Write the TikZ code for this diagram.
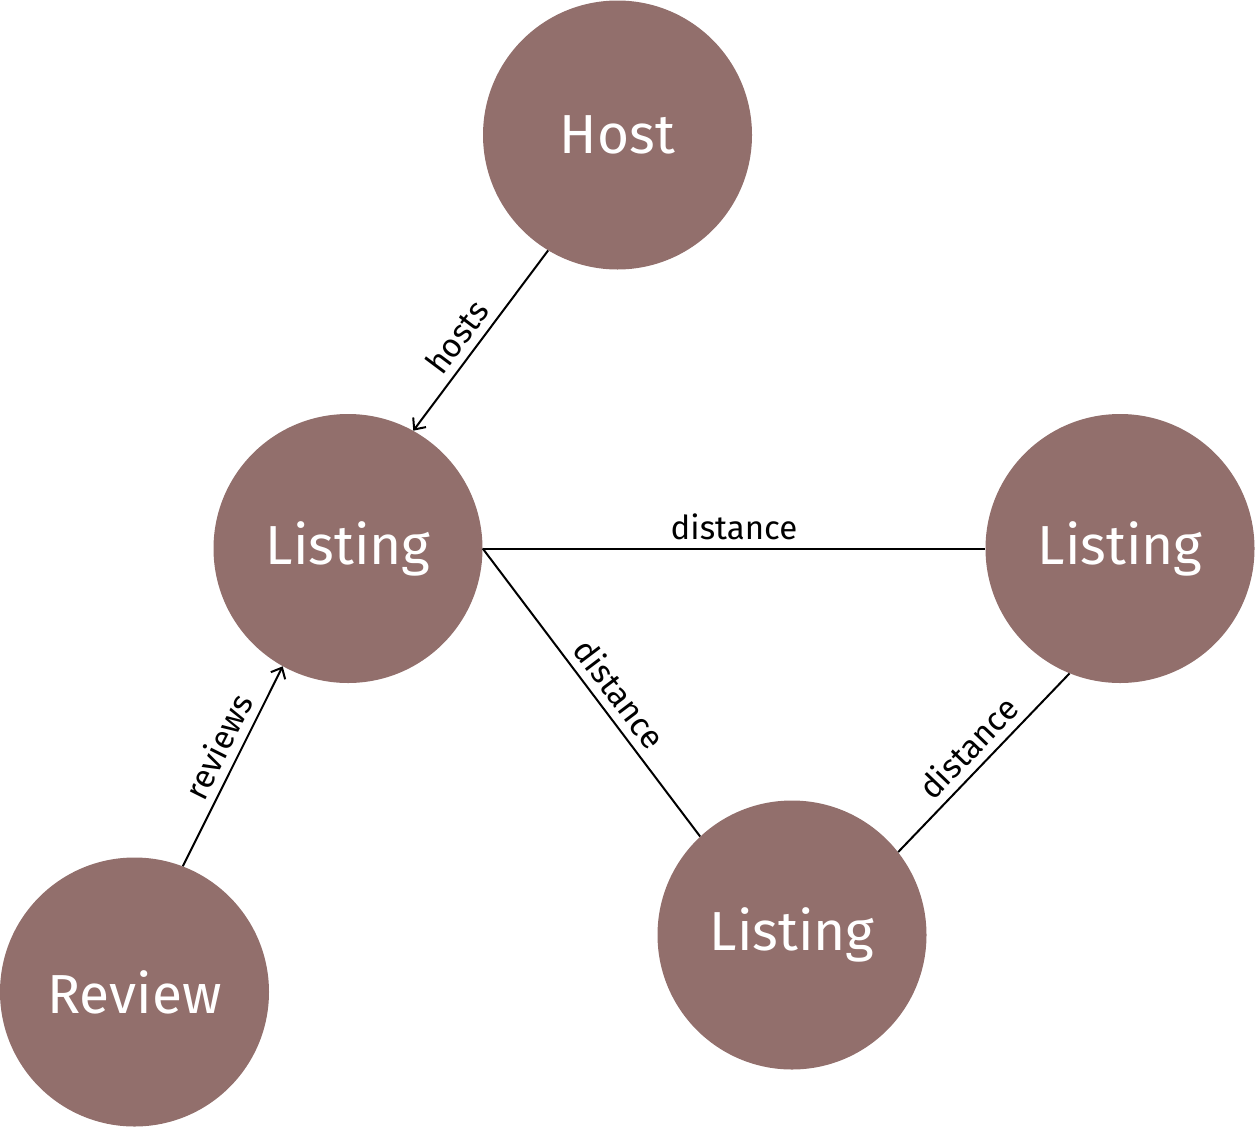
\documentclass[tikz,border=0pt]{standalone}
\usepackage{fontspec}
\setmainfont{Fira Sans}
\usetikzlibrary{arrows.meta}
\definecolor{nodefill}{HTML}{926F6C}
\begin{document}
\begin{tikzpicture}[x=1pt,y=-1pt,
  entity/.style={circle,fill=nodefill,draw=none,minimum size=269pt,inner sep=0pt,text=white,font=\fontsize{55}{66}\selectfont},
  rel/.style={line width=2pt,black},
  arr/.style={rel,-{Straight Barb[length=9pt,width=16pt,line width=2pt]}},
  lbl/.style={font=\fontsize{33}{40}\selectfont,sloped,above,inner sep=8pt}]
\useasboundingbox (0,0) rectangle (1255,1127);
\node[entity] (host) at (617.5,135) {Host};
\node[entity] (l1) at (348,548.5) {Listing};
\node[entity] (l2) at (1120,548.5) {Listing};
\node[entity] (l3) at (792,935) {Listing};
\node[entity] (rev) at (134.5,992) {Review};
\draw[arr] (host.239) -- node[lbl,pos=0.55] {hosts} (l1.61.7);
\draw[arr] (rev.69) -- node[lbl,pos=0.55] {reviews} (l1.241);
\draw[rel] (l1.east) -- node[lbl] {distance} (l2.west);
\draw[rel] (l1.east) -- node[lbl,pos=0.55] {distance} (l3.133.5);
\draw[rel] (l3.38) -- node[lbl] {distance} (l2.248.5);
\end{tikzpicture}
\end{document}
